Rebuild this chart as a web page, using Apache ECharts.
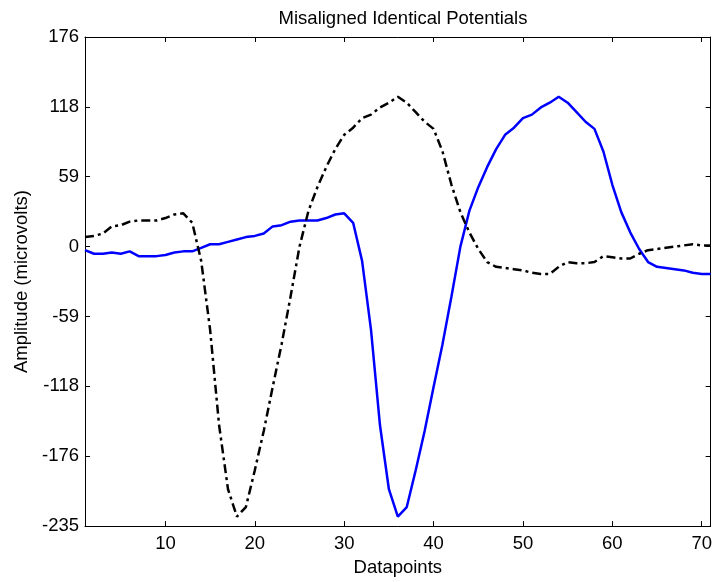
<!DOCTYPE html>
<html>
<head>
<meta charset="utf-8">
<script src="https://cdn.jsdelivr.net/npm/echarts@6/dist/echarts.min.js"></script>
<style>
html,body{margin:0;padding:0;background:#fff;}
#chart{width:715px;height:582px;}
</style>
</head>
<body>
<div id="chart"></div>
<script>
const chartTitle = 'Misaligned Identical Potentials';
const xName = 'Datapoints';
const yName = 'Amplitude (microvolts)';
const xTicks = [10, 20, 30, 40, 50, 60, 70];
const yTicks = [-235, -176.25, -117.5, -58.75, 0, 58.75, 117.5, 176.25];
const blueValues = [-3, -6, -6, -5, -6, -4, -8, -8, -8, -7, -5, -4, -4, -1, 2, 2, 4, 6, 8, 9,
  11, 17, 18, 21, 22, 22, 22, 24, 27, 28, 20, -12, -70, -150, -204, -227, -219, -188, -155, -118,
  -82, -42, 0, 30, 50, 67, 82, 94, 100, 108, 111, 117, 121, 126, 121, 113, 105, 99, 80, 52,
  29, 12, -2, -13, -17, -18, -19, -20, -22, -23, -23];
const blackValues = [8, 9, 11, 17, 18, 21, 22, 22, 22, 24, 27, 28, 20, -12, -70, -150, -204, -227, -219, -188,
  -155, -118, -82, -42, 0, 30, 50, 67, 82, 94, 100, 108, 111, 117, 121, 126, 121, 113, 105, 99,
  80, 52, 29, 12, -2, -13, -17, -18, -19, -20, -22, -23, -23, -17, -13, -14, -14, -13, -8, -9,
  -10, -10, -6, -3, -2, -1, 0, 1, 2, 1, 1];

const toPairs = arr => arr.map((v, i) => [i + 1, v]);
const roundAway = v => (v < 0 ? -Math.round(-v) : Math.round(v));
const font = 'Liberation Sans, Arial, Helvetica, sans-serif';
const fs = 18.5;

const chart = echarts.init(document.getElementById('chart'));
const xBase = {
  type: 'value', min: 1, max: 71,
  axisLine: { show: true, onZero: false, lineStyle: { color: '#000', width: 1 } },
  axisTick: { show: true, inside: true, length: 5, customValues: xTicks, lineStyle: { color: '#000' } },
  splitLine: { show: false }
};
const yBase = {
  type: 'value', min: -235, max: 176.25, interval: 58.75,
  axisLine: { show: true, onZero: false, lineStyle: { color: '#000', width: 1 } },
  axisTick: { show: true, inside: true, length: 5, customValues: yTicks, lineStyle: { color: '#000' } },
  splitLine: { show: false }
};
chart.setOption({
  animation: false,
  backgroundColor: '#fff',
  title: {
    text: chartTitle, left: 398, top: 4, textAlign: 'center',
    textStyle: { fontFamily: font, fontSize: fs, fontWeight: 'normal', color: '#000' }
  },
  grid: { left: 85, right: 2, top: 37, bottom: 49, containLabel: false },
  xAxis: [
    Object.assign({}, xBase, {
      position: 'bottom',
      name: xName, nameLocation: 'middle', nameGap: 30,
      nameTextStyle: { fontFamily: font, fontSize: fs, color: '#000' },
      axisLabel: { show: true, customValues: xTicks, margin: 8, fontFamily: font, fontSize: fs, color: '#000' }
    }),
    Object.assign({}, xBase, { position: 'top', axisLabel: { show: false } })
  ],
  yAxis: [
    Object.assign({}, yBase, {
      position: 'left',
      name: yName, nameLocation: 'middle', nameGap: 54, nameRotate: 90,
      nameTextStyle: { fontFamily: font, fontSize: fs, color: '#000' },
      axisLabel: { show: true, customValues: yTicks, margin: 6, fontFamily: font, fontSize: fs, color: '#000',
        formatter: v => String(roundAway(v)) }
    }),
    Object.assign({}, yBase, { position: 'right', axisLabel: { show: false } })
  ],
  series: [
    {
      type: 'line', data: toPairs(blueValues), showSymbol: false, symbol: 'none',
      lineStyle: { color: '#0000ff', width: 2.5 }, xAxisIndex: 0, yAxisIndex: 0, z: 2
    },
    {
      type: 'line', data: toPairs(blackValues), showSymbol: false, symbol: 'none',
      lineStyle: { color: '#000', width: 2.5, type: [9, 4, 3, 4] }, xAxisIndex: 0, yAxisIndex: 0, z: 3
    }
  ]
});
</script>
</body>
</html>
